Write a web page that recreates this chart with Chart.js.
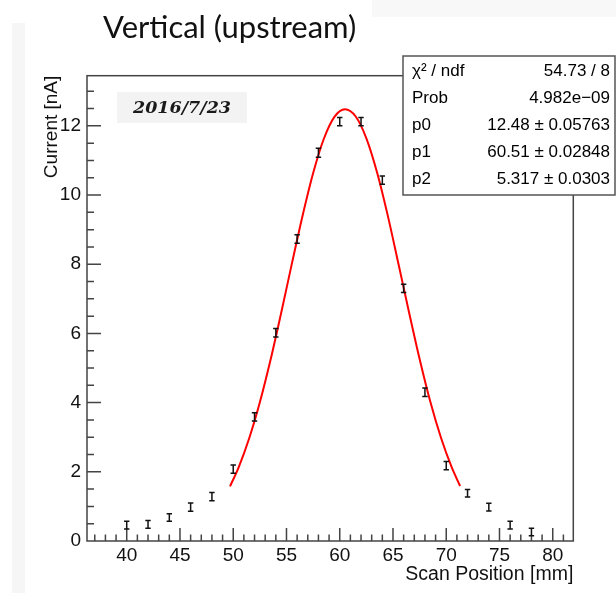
<!DOCTYPE html>
<html>
<head>
<meta charset="utf-8">
<title>Vertical (upstream)</title>
<script src="https://cdn.jsdelivr.net/npm/chart.js@4/dist/chart.umd.min.js"></script>
<style>
  html, body { margin: 0; padding: 0; background: #fff; }
  #wrap { width: 616px; height: 593px; }
</style>
</head>
<body>
<div id="wrap"><canvas id="scanChart" width="616" height="593"></canvas></div>
<script>
// measured wire scan points
const scanPos = [40, 42, 44, 46, 48, 50, 52, 54, 56, 58, 60, 62, 64, 66, 68, 70, 72, 74, 76, 78];
const current = [0.46, 0.48, 0.68, 0.98, 1.28, 2.08, 3.59, 6.02, 8.73, 11.22, 12.12, 12.12, 10.43, 7.30, 4.30, 2.18, 1.38, 0.98, 0.46, 0.26];
const currentErr = [0.11, 0.11, 0.11, 0.12, 0.12, 0.12, 0.12, 0.12, 0.12, 0.13, 0.12, 0.12, 0.12, 0.12, 0.12, 0.12, 0.11, 0.11, 0.11, 0.11];

// red fit curve
const fitPos = [49.7, 50.5, 51.5, 52.5, 53.5, 54.5, 55.5, 56.5, 57.5, 58.5, 59.5, 60.5, 61.5, 62.5, 63.5, 64.5, 65.5, 66.5, 67.5, 68.5, 69.5, 70.5, 71.3];
const fitCurrent = [1.58, 2.12, 2.97, 4.01, 5.23, 6.59, 8.01, 9.39, 10.63, 11.62, 12.26, 12.48, 12.27, 11.64, 10.66, 9.42, 8.03, 6.62, 5.26, 4.03, 2.99, 2.14, 1.59];

const xTickLabels = [40, 45, 50, 55, 60, 65, 70, 75, 80];
const yTickLabels = [0, 2, 4, 6, 8, 10, 12];

const statsNames = ['χ² / ndf', 'Prob', 'p0', 'p1', 'p2'];
const statsValues = ['54.73 / 8', '4.982e\u221209', '12.48 ± 0.05763', '60.51 ± 0.02848', '5.317 ± 0.0303'];

const axisFont = { family: 'Liberation Sans', size: 19 };
const frameColor = '#444';

// background, frame and inward ROOT-style ticks
const framePlugin = {
    id: 'framePlugin',
    beforeDraw(chart) {
        const ctx = chart.ctx;
        ctx.save();
        ctx.fillStyle = '#fff';
        ctx.fillRect(0, 0, chart.width, chart.height);
        ctx.fillStyle = '#f6f6f6';
        ctx.fillRect(12, 23, 13, chart.height - 23);
        ctx.fillStyle = '#f8f8f8';
        ctx.fillRect(372, 0, chart.width - 372, 17);
        ctx.restore();
    },
    beforeDatasetsDraw(chart) {
        const ctx = chart.ctx;
        const a = chart.chartArea;
        const xs = chart.scales.x, ys = chart.scales.y;
        ctx.save();
        ctx.strokeStyle = frameColor;
        ctx.lineWidth = 1.5;
        ctx.strokeRect(a.left, a.top, a.right - a.left, a.bottom - a.top);

        ctx.beginPath();
        // x ticks: major every 5, minor every 1
        for (let v = Math.ceil(xs.min); v <= xs.max; v++) {
            const px = xs.getPixelForValue(v);
            const len = xTickLabels.includes(v) ? 13 : 6.5;
            ctx.moveTo(px, a.bottom);
            ctx.lineTo(px, a.bottom - len);
        }
        // y ticks: major every 2, minor every 0.5
        for (let v = 0.5; v <= ys.max; v += 0.5) {
            const py = ys.getPixelForValue(v);
            const len = yTickLabels.includes(v) ? 14 : 7;
            ctx.moveTo(a.left, py);
            ctx.lineTo(a.left + len, py);
        }
        ctx.stroke();
        ctx.restore();
    },
    afterDatasetsDraw(chart) {
        // error bar caps
        const ctx = chart.ctx;
        const ys = chart.scales.y;
        const meta = chart.getDatasetMeta(0);
        ctx.save();
        ctx.strokeStyle = '#111';
        ctx.lineWidth = 1.5;
        ctx.beginPath();
        meta.data.forEach((pt, i) => {
            const top = ys.getPixelForValue(current[i] + currentErr[i]);
            const bot = ys.getPixelForValue(current[i] - currentErr[i]);
            ctx.moveTo(pt.x - 2.7, top);
            ctx.lineTo(pt.x + 2.7, top);
            ctx.moveTo(pt.x - 2.7, bot);
            ctx.lineTo(pt.x + 2.7, bot);
        });
        ctx.stroke();
        ctx.restore();
    },
    afterDraw(chart) {
        const ctx = chart.ctx;
        ctx.save();

        // title
        ctx.fillStyle = '#111';
        ctx.font = '31px Lato';
        ctx.textAlign = 'left';
        ctx.textBaseline = 'alphabetic';
        ctx.fillText('Vertical (upstream)', 103, 38);

        // date label
        ctx.fillStyle = '#f3f3f3';
        ctx.fillRect(117, 92, 130, 31);
        ctx.fillStyle = '#1a1a1a';
        ctx.font = 'italic bold 17.5px "DejaVu Serif"';
        ctx.textAlign = 'center';
        ctx.textBaseline = 'middle';
        ctx.fillText('2016/7/23', 182, 108);

        // fit statistics box
        const bx = 403, by = 56, bw = 212, bh = 139;
        ctx.fillStyle = '#fff';
        ctx.fillRect(bx, by, bw, bh);
        ctx.strokeStyle = '#555';
        ctx.lineWidth = 1.5;
        ctx.strokeRect(bx, by, bw, bh);
        ctx.fillStyle = '#000';
        ctx.font = '17px "Liberation Sans"';
        ctx.textBaseline = 'middle';
        statsNames.forEach((name, i) => {
            const ty = 71 + i * 27.2;
            ctx.textAlign = 'left';
            ctx.fillText(name, 412, ty);
            ctx.textAlign = 'right';
            ctx.fillText(statsValues[i], 610, ty);
        });
        ctx.restore();
    }
};

new Chart(document.getElementById('scanChart'), {
    type: 'scatter',
    data: {
        datasets: [{
            label: 'data',
            data: scanPos.map((x, i) => ({ x: x, y: current[i] })),
            pointStyle: 'line',
            rotation: 90,
            radius: ctx => {
                const ys = ctx.chart.scales.y;
                return Math.abs(ys.getPixelForValue(0) - ys.getPixelForValue(currentErr[ctx.dataIndex]));
            },
            borderColor: '#111',
            backgroundColor: '#111',
            borderWidth: 1.5,
            showLine: false
        }, {
            label: 'fit',
            data: fitPos.map((x, i) => ({ x: x, y: fitCurrent[i] })),
            showLine: true,
            pointRadius: 0,
            borderColor: '#ff0000',
            borderWidth: 2,
            cubicInterpolationMode: 'monotone',
            fill: false
        }]
    },
    options: {
        responsive: false,
        animation: false,
        events: [],
        layout: { padding: { left: 0, top: 75.7, right: 42.7, bottom: 0 } },
        plugins: {
            legend: { display: false },
            tooltip: { enabled: false }
        },
        scales: {
            x: {
                type: 'linear',
                min: 36.27,
                max: 81.93,
                grid: { display: false, drawTicks: false },
                border: { display: false },
                afterBuildTicks: s => { s.ticks = xTickLabels.map(v => ({ value: v })); },
                afterFit: s => { s.height = 52; },
                ticks: { font: axisFont, color: '#111', padding: 3, maxRotation: 0, autoSkip: false },
                title: {
                    display: true, text: 'Scan Position [mm]', align: 'end',
                    font: { family: 'Liberation Sans', size: 19.5 }, color: '#111', padding: { top: 0, bottom: 7 }
                }
            },
            y: {
                type: 'linear',
                min: 0,
                max: 13.45,
                grid: { display: false, drawTicks: false },
                border: { display: false },
                afterBuildTicks: s => { s.ticks = yTickLabels.map(v => ({ value: v })); },
                afterFit: s => { s.width = 87; },
                ticks: { font: axisFont, color: '#111', padding: 6, autoSkip: false },
                title: {
                    display: true, text: 'Current [nA]', align: 'end',
                    font: axisFont, color: '#111', padding: { top: 40, bottom: 0 }
                }
            }
        }
    },
    plugins: [framePlugin]
});
</script>
</body>
</html>
